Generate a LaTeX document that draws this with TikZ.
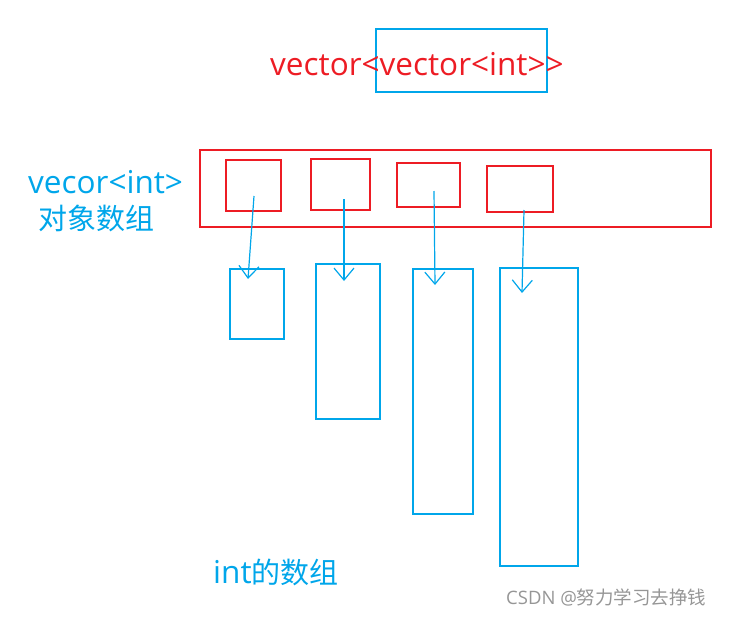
\documentclass[tikz,border=0pt]{standalone}
\usepackage{fontspec}
\setmainfont{Open Sans}
\newfontfamily\cjkfam{Noto Sans CJK SC}
\newcommand\cjk{\cjkfam\fontsize{29}{34}\selectfont}
\usetikzlibrary{arrows.meta}

\definecolor{penred}{RGB}{237,28,36}
\definecolor{penblue}{RGB}{0,166,234}
\definecolor{markgray}{RGB}{150,150,150}

\tikzset{redbox/.style  = {draw=penred, line width=1.2pt, rectangle, inner sep=0pt,
                           outer sep=0pt, anchor=north west},
         bluebox/.style = {draw=penblue, line width=1.2pt, rectangle, inner sep=0pt,
                           outer sep=0pt, anchor=north west},
         bigtext/.style = {inner sep=0pt, anchor=base west, font=\fontsize{31.5}{36}\selectfont},
         pointer/.style = {draw=penblue, line width=1.2pt,
                           -{Straight Barb[length=12pt, width=20pt, line width=1.2pt]}}
        }

\begin{document}
\begin{tikzpicture}[x=1pt, y=-1pt]
  \useasboundingbox (0,0) rectangle (746,616);

  % title
  \node[bluebox, minimum width=171, minimum height=63] (inner) at (376,29) {};
  \node[bigtext, text=penred] (title) at (270,75) {vector<vector<int>{}>};

  % object array
  \node[bigtext, text=penblue] (lab1) at (28,193) {vecor<int>};
  \node[bigtext, text=penblue] (lab2) at (38,229) {\cjk 对象数组};
  \node[redbox, minimum width=511, minimum height=77] (row) at (200,150) {};
  \node[redbox, minimum width=55, minimum height=51] (cell1) at (226,160) {};
  \node[redbox, minimum width=59, minimum height=51] (cell2) at (311,159) {};
  \node[redbox, minimum width=63, minimum height=44] (cell3) at (397,163) {};
  \node[redbox, minimum width=66, minimum height=46] (cell4) at (487,166) {};

  % int arrays
  \node[bluebox, minimum width=54, minimum height=70]  (arr1) at (230,269) {};
  \node[bluebox, minimum width=64, minimum height=155] (arr2) at (316,264) {};
  \node[bluebox, minimum width=60, minimum height=245] (arr3) at (413,269) {};
  \node[bluebox, minimum width=78, minimum height=298] (arr4) at (500,268) {};

  % pointers
  \coordinate (s1) at (254,196); \coordinate (e1) at (248,279);
  \coordinate (s2) at (344,199); \coordinate (e2) at (344,281);
  \coordinate (s3) at (434,191); \coordinate (e3) at (435,285);
  \coordinate (s4) at (524,210); \coordinate (e4) at (522,293);
  \foreach \i in {1,...,4}
    \draw[pointer] (s\i) -- (e\i);

  \node[bigtext, text=penblue] (lab3) at (213,583) {int{\cjk 的数组}};
  \node[inner sep=0pt, anchor=base west, text=markgray,
        font=\fontsize{18.5}{20}\selectfont] (mark) at (506,604) {CSDN @{\cjkfam 努力学习去挣钱}};
\end{tikzpicture}
\end{document}
